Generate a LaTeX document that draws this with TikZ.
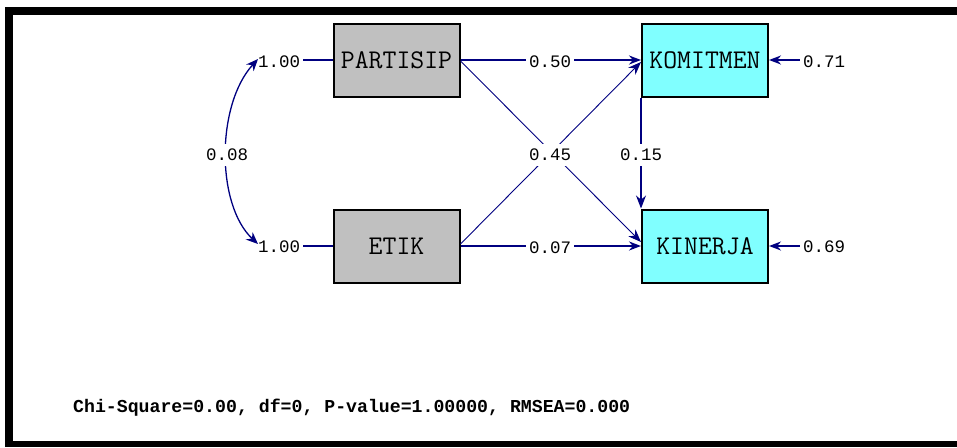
\documentclass[tikz,border=0pt]{standalone}
\usepackage{fontspec}
\newfontfamily\cour{Liberation Mono}
\usetikzlibrary{arrows.meta}
\definecolor{navy}{RGB}{0,0,128}
\definecolor{boxgray}{RGB}{192,192,192}
\definecolor{boxcyan}{RGB}{128,255,255}
\begin{document}
\begin{tikzpicture}[x=1pt,y=-1pt,
  var/.style={draw=black, line width=2pt, minimum width=126pt, minimum height=73pt, inner sep=0pt, font=\ttfamily\fontsize{27}{27}\selectfont},
  obs/.style={var, fill=boxgray},
  endo/.style={var, fill=boxcyan},
  lab/.style={fill=white, inner xsep=3pt, inner ysep=5pt, font=\cour\fontsize{17.5}{17.5}\selectfont},
  nolab/.style={lab, fill=none},
  thick path/.style={draw=navy, line width=1.8pt, -{Stealth[length=12pt,width=9pt]}},
  thin path/.style={draw=navy, line width=0.9pt, -{Stealth[length=13pt,width=10pt]}},
  varline/.style={draw=navy, line width=1.8pt},
  cov/.style={draw=navy, line width=1.3pt, {Stealth[length=12pt,width=10pt]}-{Stealth[length=12pt,width=10pt]}},
]
\useasboundingbox (0,0) rectangle (957,447);
% frame
\fill[black] (5,7) rectangle (957,15);
\fill[black] (5,7) rectangle (13,447);
\fill[black] (5,441) rectangle (957,447);

% boxes
\node[obs]  (P) at (396.5,60) {PARTISIP};
\node[obs]  (E) at (396.5,246) {ETIK};
\node[endo] (K) at (705,60) {KOMITMEN};
\node[endo] (J) at (705,246) {KINERJA};

% structural paths
\draw[thick path] (P.east) -- (K.west);
\draw[thick path] (E.east) -- (J.west);
\draw[thin path] ([yshift=-1pt]P.east) -- ([yshift=4pt]J.west);
\draw[thin path] ([yshift=2pt]E.east) -- ([yshift=-2pt]K.west);
\draw[thin path, line width=1.2pt] (K.south west) -- (J.north west);

% covariance curve
\coordinate (ct) at (258,59);
\coordinate (cb) at (258,244);
\draw[cov] (ct) .. controls (216,105) and (216,205) .. (cb);

% labels
\node[lab] (c12) at (227,155) {0.08};
\node[lab] (b1) at (550,62) {0.50};
\node[lab] (b2) at (550,248) {0.07};
\node[lab] (b3) at (550,155) {0.45};
\node[lab] (b4) at (641,155) {0.15};
\node[nolab] (v1) at (279,62) {1.00};
\node[nolab] (v2) at (279,247) {1.00};
\node[nolab] (e1) at (824,62) {0.71};
\node[nolab] (e2) at (824,247) {0.69};

% variance / error lines
\draw[varline] (v1.east |- P.west) -- (P.west);
\draw[varline] (v2.east |- E.west) -- (E.west);
\draw[thick path] (e1.west |- K.east) -- (K.east);
\draw[thick path] (e2.west |- J.east) -- (J.east);

% fit statistics
\node[anchor=base west, inner sep=0pt, font=\cour\bfseries\fontsize{18.2}{18.2}\selectfont] (fit) at (73,412) {Chi-Square=0.00, df=0, P-value=1.00000, RMSEA=0.000};
\end{tikzpicture}
\end{document}
